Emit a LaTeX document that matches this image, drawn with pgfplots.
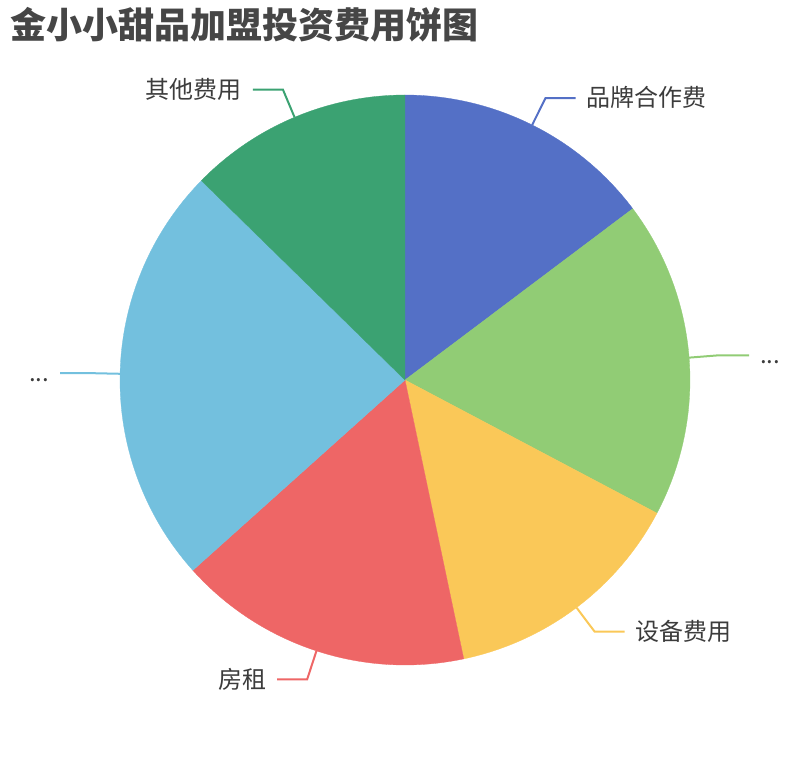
\documentclass[border=0pt]{standalone}
\usepackage{pgfplots}
\pgfplotsset{compat=1.18}
\usepgfplotslibrary{polar}
\usepackage{fontspec}
\setmainfont{Noto Sans CJK SC}
\definecolor{c1}{HTML}{5470C6}
\definecolor{c2}{HTML}{91CC75}
\definecolor{c3}{HTML}{FAC858}
\definecolor{c4}{HTML}{EE6666}
\definecolor{c5}{HTML}{73C0DE}
\definecolor{c6}{HTML}{3BA272}
\definecolor{titlec}{HTML}{464646}
\definecolor{labc}{HTML}{3C3C3C}
\begin{document}
\begin{tikzpicture}[x=1bp,y=1bp]
\useasboundingbox (-405,-380) rectangle (405,380);
\begin{polaraxis}[at={(0,0)}, anchor=center, hide axis, clip=false,
  scale only axis, width=570bp, height=570bp, ymin=0, ymax=1]
% slice boundaries in polar degrees (start at top, clockwise)
\addplot[fill=c1, draw=c1, line width=0.3bp, domain=36.95:90, samples=60] {1} -- (axis cs:0,0) -- cycle;
\addplot[fill=c2, draw=c2, line width=0.3bp, domain=-27.86:36.95, samples=60] {1} -- (axis cs:0,0) -- cycle;
\addplot[fill=c3, draw=c3, line width=0.3bp, domain=-78.1:-27.86, samples=60] {1} -- (axis cs:0,0) -- cycle;
\addplot[fill=c4, draw=c4, line width=0.3bp, domain=-138.1:-78.1, samples=60] {1} -- (axis cs:0,0) -- cycle;
\addplot[fill=c5, draw=c5, line width=0.3bp, domain=-224.4:-138.1, samples=80] {1} -- (axis cs:0,0) -- cycle;
\addplot[fill=c6, draw=c6, line width=0.3bp, domain=-270:-224.4, samples=60] {1} -- (axis cs:0,0) -- cycle;
\end{polaraxis}
% title
\node[anchor=west, inner sep=0, text=titlec, font=\fontsize{36bp}{40bp}\selectfont\bfseries] at (-395,355) {金小小甜品加盟投资费用饼图};
% leader lines and labels
\tikzset{lab/.style={inner sep=0, text=labc, font=\fontsize{24bp}{28bp}\selectfont}}
\draw[c1, line width=2bp] (63.5:285) -- (63.5:315) -- ++(30,0) node[lab, anchor=west, xshift=10bp, yshift=1bp] {品牌合作费};
\draw[c2, line width=2bp] (4.5:285) -- (4.5:315) -- ++(30,0) node[lab, anchor=west, xshift=10bp] {\vphantom{品}...};
\draw[c3, line width=2bp] (-53:285) -- (-53:315) -- ++(30,0) node[lab, anchor=west, xshift=10bp] {设备费用};
\draw[c4, line width=2bp] (-108.1:285) -- (-108.1:315) -- ++(-30,0) node[lab, anchor=east, xshift=-10bp] {房租};
\draw[c5, line width=2bp] (-181.25:285) -- (-181.25:315) -- ++(-30,0) node[lab, anchor=east, xshift=-10bp] {\vphantom{品}...};
\draw[c6, line width=2bp] (-247.2:285) -- (-247.2:315) -- ++(-30,0) node[lab, anchor=east, xshift=-10bp] {其他费用};
\end{tikzpicture}
\end{document}
